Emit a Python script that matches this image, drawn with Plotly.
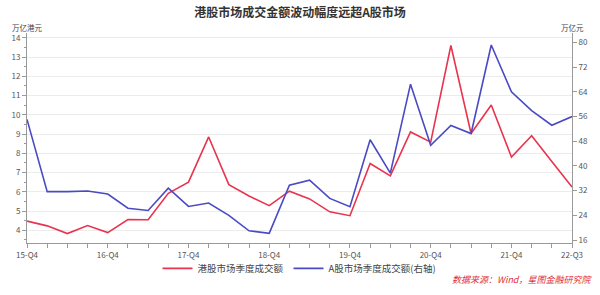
import plotly.graph_objects as go

quarters = ["15-Q4", "16-Q1", "16-Q2", "16-Q3", "16-Q4", "17-Q1", "17-Q2", "17-Q3",
            "17-Q4", "18-Q1", "18-Q2", "18-Q3", "18-Q4", "19-Q1", "19-Q2", "19-Q3",
            "19-Q4", "20-Q1", "20-Q2", "20-Q3", "20-Q4", "21-Q1", "21-Q2", "21-Q3",
            "21-Q4", "22-Q1", "22-Q2", "22-Q3"]
labeled_quarters = ["15-Q4", "16-Q4", "17-Q4", "18-Q4", "19-Q4", "20-Q4", "21-Q4", "22-Q3"]

hk_turnover = [4.48, 4.23, 3.83, 4.25, 3.88, 4.56, 4.55, 5.92, 6.50, 8.85, 6.37, 5.78,
               5.28, 6.03, 5.63, 4.96, 4.76, 7.47, 6.83, 9.11, 8.58, 13.6, 9.03, 10.51,
               7.81, 8.91, 7.58, 6.25]
a_turnover = [55.1, 31.7, 31.7, 31.9, 30.9, 26.3, 25.6, 32.8, 26.9, 28.0, 24.0, 19.0,
              18.2, 33.8, 35.4, 29.5, 26.8, 48.5, 37.7, 66.5, 46.7, 53.1, 50.5, 79.2,
              64.0, 57.9, 53.2, 56.0]

left_ticks = [4, 5, 6, 7, 8, 9, 10, 11, 12, 13, 14]
right_ticks = [16, 24, 32, 40, 48, 56, 64, 72, 80]

FONT = "Noto Sans CJK SC"
TICK_COLOR = "#555555"
AXIS_COLOR = "#9a9a9a"

fig = go.Figure()
fig.add_trace(go.Scatter(x=quarters, y=hk_turnover, mode="lines", name="港股市场季度成交额",
                         line=dict(color="#e8344e", width=1.6), yaxis="y"))
fig.add_trace(go.Scatter(x=quarters, y=a_turnover, mode="lines", name="A股市场季度成交额(右轴)",
                         line=dict(color="#4a4ac4", width=1.6), yaxis="y2"))

ticktext = [q if q in labeled_quarters else "" for q in quarters]

fig.update_layout(
    width=600, height=295,
    margin=dict(l=27, r=26, t=33, b=47),
    paper_bgcolor="white", plot_bgcolor="white",
    font=dict(family=FONT, size=8, color=TICK_COLOR),
    title=dict(text="<b>港股市场成交金额波动幅度远超A股市场</b>", x=0.5, xanchor="center",
               y=1 - 13 / 295, yanchor="middle", font=dict(family=FONT, size=12, color="#333333")),
    showlegend=True,
    legend=dict(orientation="h", x=0.5, xanchor="center", y=-0.121, yanchor="middle",
                font=dict(family=FONT, size=9.5, color="#444444"), bgcolor="rgba(0,0,0,0)",
                itemwidth=30, tracegroupgap=0),
    xaxis=dict(type="category", range=[0, len(quarters) - 1], tickmode="array",
               tickvals=quarters, ticktext=ticktext, ticks="outside", ticklen=4,
               tickcolor=AXIS_COLOR, showline=True, linecolor=AXIS_COLOR, linewidth=1,
               showgrid=False, zeroline=False, tickangle=0,
               tickfont=dict(family=FONT, size=8, color=TICK_COLOR)),
    yaxis=dict(range=[3.34, 14.25], tickmode="array", tickvals=left_ticks,
               ticks="outside", ticklen=4, tickcolor=AXIS_COLOR, showline=True,
               linecolor=AXIS_COLOR, linewidth=1, showgrid=True, gridcolor="#ececec",
               zeroline=False, tickfont=dict(family=FONT, size=8, color=TICK_COLOR),
               minor=dict(tickvals=[v + 0.5 for v in range(3, 14)], ticks="outside",
                          ticklen=2, tickcolor=AXIS_COLOR, showgrid=False)),
    yaxis2=dict(range=[15.05, 83.07], overlaying="y", side="right", tickmode="array",
                tickvals=right_ticks, ticks="outside", ticklen=4, tickcolor=AXIS_COLOR,
                showline=True, linecolor=AXIS_COLOR, linewidth=1, showgrid=False,
                zeroline=False, tickfont=dict(family=FONT, size=8, color=TICK_COLOR),
                minor=dict(tickvals=[v + 4 for v in range(12, 84, 8)], ticks="outside",
                           ticklen=2, tickcolor=AXIS_COLOR, showgrid=False)),
)

fig.add_annotation(text="万亿港元", xref="paper", yref="paper", x=0, y=1.028,
                   xanchor="center", yanchor="middle", showarrow=False,
                   font=dict(family=FONT, size=7.5, color="#444444"))
fig.add_annotation(text="万亿元", xref="paper", yref="paper", x=1, y=1.028,
                   xanchor="center", yanchor="middle", showarrow=False,
                   font=dict(family=FONT, size=7.5, color="#444444"))
fig.add_annotation(text="<i>数据来源：Wind，星图金融研究院</i>", xref="paper", yref="paper",
                   x=1.04, y=-0.172, xanchor="right", yanchor="middle", showarrow=False,
                   font=dict(family=FONT, size=9, color="#e0303a"))

fig.write_html("out.html")
